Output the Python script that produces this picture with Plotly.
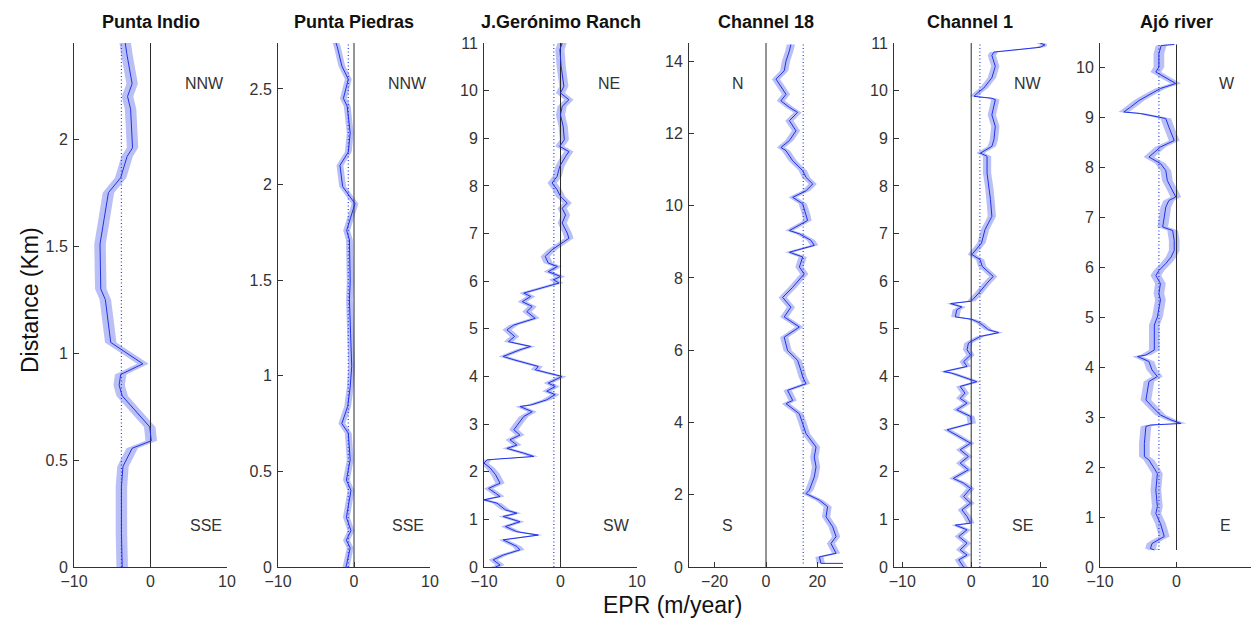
import plotly.graph_objects as go

# ---------------- data ----------------
titles = ["Punta Indio", "Punta Piedras", "J.Gerónimo Ranch", "Channel 18", "Channel 1", "Ajó river"]
dir_top = ["NNW", "NNW", "NE", "N", "NW", "W"]
dir_bottom = ["SSE", "SSE", "SW", "S", "SE", "E"]

# Punta Indio
pi_dist = [2.45, 2.40, 2.26, 2.20, 2.14, 1.96, 1.92, 1.82, 1.75, 1.64, 1.51, 1.30, 1.25, 1.05, 0.95,
           0.90, 0.85, 0.80, 0.655, 0.59, 0.555, 0.47, 0.375, 0.16, 0.0]
pi_epr = [-3.3, -3.1, -2.4, -3.0, -2.6, -2.35, -3.05, -3.9, -5.5, -6.0, -6.6, -6.5, -5.9, -5.2, -1.0,
          -3.9, -4.1, -3.7, -0.1, 0.1, -2.4, -3.6, -3.8, -3.8, -3.7]

# Punta Piedras
pp_dist = [2.74, 2.72, 2.62, 2.55, 2.45, 2.41, 2.27, 2.17, 2.10, 1.99, 1.94, 1.90, 1.76, 1.71, 1.49,
           1.40, 1.22, 1.05, 0.94, 0.84, 0.75, 0.70, 0.56, 0.455, 0.40, 0.26, 0.19, 0.14, 0.10, 0.0]
pp_epr = [-2.37, -2.2, -1.6, -0.75, -1.4, -0.9, -0.5, -0.75, -1.85, -1.5, -0.6, 0.13, -0.97, -0.6, -0.5,
          -0.6, -0.45, -0.3, -0.5, -0.83, -1.6, -0.75, -0.5, -1.0, -0.4, -1.0, -0.4, -1.0, -0.5, -1.05]

# J.Gerónimo Ranch
jg_dist = [11.0, 10.86, 10.51, 10.09, 9.95, 9.81, 9.67, 9.49, 9.25, 8.97, 8.83, 8.72, 8.62, 8.41, 8.2,
           8.06, 7.92, 7.78, 7.64, 7.53, 7.39, 7.22, 7.01, 6.9, 6.66, 6.52, 6.38, 6.31, 6.20, 6.10,
           6.03, 5.96, 5.82, 5.75, 5.68, 5.57, 5.47, 5.36, 5.22, 5.08, 4.98, 4.84, 4.73, 4.63, 4.56,
           4.42, 4.35, 4.21, 4.14, 4.03, 4.00, 3.86, 3.79, 3.69, 3.62, 3.51, 3.40, 3.37, 3.26, 3.16,
           3.02, 2.88, 2.77, 2.67, 2.56, 2.49, 2.39, 2.32, 2.25, 2.18, 2.08, 1.94, 1.76, 1.65, 1.55,
           1.48, 1.41, 1.34, 1.20, 1.13, 1.06, 0.95, 0.85, 0.74, 0.67, 0.57, 0.43, 0.36, 0.25, 0.15,
           0.04, 0.0]
jg_epr = [0.22, -0.08, 0.09, 0.44, 0.0, 1.1, 0.22, 0.0, 0.35, 0.5, -0.1, 1.1, 0.66, -0.1, -0.44,
          -1.1, -0.44, 0.0, 0.88, 0.22, 0.66, 0.22, 0.88, 1.1, -1.1, -2.0, -1.6, -0.4, -1.6, 0.0,
          -0.9, -0.2, -3.3, -4.8, -3.9, -5.0, -3.7, -4.4, -3.3, -6.1, -7.0, -6.0, -6.8, -3.9, -5.3,
          -7.5, -6.1, -2.9, -3.3, -0.7, 0.2, -1.6, -0.7, -1.8, -0.7, -1.8, -3.9, -5.3, -3.7, -4.8,
          -5.5, -6.1, -5.3, -6.6, -5.7, -7.0, -4.8, -3.5, -9.6, -10.0, -9.2, -8.5, -7.9, -9.4, -8.5,
          -7.9, -10.0, -8.3, -7.2, -5.7, -7.5, -5.3, -7.2, -5.7, -2.9, -7.5, -5.7, -5.3, -7.5, -8.8,
          -7.9, -8.5]

# Channel 18
c18_dist = [14.46, 14.28, 14.0, 13.73, 13.5, 13.36, 13.08, 12.9, 12.72, 12.58, 12.35, 12.07, 11.8, 11.61,
            11.52, 11.24, 10.97, 10.78, 10.6, 10.41, 10.23, 10.05, 9.77, 9.59, 9.31, 9.22, 9.04, 8.9,
            8.71, 8.58, 8.30, 8.11, 7.74, 7.46, 7.19, 6.92, 6.64, 6.36, 5.99, 5.72, 5.44, 5.26, 5.07,
            4.89, 4.61, 4.52, 4.24, 3.97, 3.69, 3.32, 3.04, 2.77, 2.49, 2.13, 2.03, 1.85, 1.67, 1.39,
            1.11, 0.84, 0.65, 0.38, 0.28, 0.10, 0.10]
c18_epr = [9.7, 9.1, 7.8, 7.1, 3.9, 5.2, 7.8, 5.8, 9.1, 12.3, 9.1, 11.7, 9.1, 5.8,
           7.8, 10.4, 14.3, 15.6, 18.2, 15.6, 10.4, 14.3, 15.6, 16.2, 9.1, 13.0, 17.5, 18.8,
           9.1, 14.3, 13.0, 14.9, 10.4, 6.5, 9.7, 7.1, 13.0, 7.1, 8.4, 12.3, 13.6, 14.3, 15.6,
           8.4, 10.4, 7.8, 13.0, 14.3, 15.6, 19.5, 18.8, 19.5, 18.8, 16.9, 15.6, 20.8, 24.0, 23.4,
           26.0, 27.3, 25.3, 27.3, 20.8, 21.4, 30.0]

# Channel 1
c1_dist = [11.0, 10.96, 10.91, 10.88, 10.83, 10.81, 10.74, 10.51, 10.27, 10.05, 9.95, 9.88, 9.84, 9.81,
           9.49, 9.25, 8.97, 8.83, 8.69, 8.62, 8.27, 7.99, 7.71, 7.36, 7.08, 6.80, 6.56, 6.45, 6.31,
           6.10, 5.96, 5.75, 5.58, 5.53, 5.46, 5.40, 5.25, 5.20, 5.12, 4.98, 4.92, 4.84, 4.70, 4.56,
           4.45, 4.31, 4.21, 4.10, 4.07, 3.89, 3.79, 3.65, 3.54, 3.44, 3.30, 3.16, 3.02, 2.88, 2.77,
           2.60, 2.46, 2.32, 2.18, 2.04, 1.86, 1.76, 1.65, 1.48, 1.34, 1.20, 1.06, 0.92, 0.88, 0.78,
           0.64, 0.50, 0.36, 0.25, 0.15, 0.0]
c1_epr = [10.0, 10.7, 10.0, 8.1, 5.2, 3.3, 3.0, 3.5, 3.0, 1.8, 0.9, 0.4, 3.0, 3.5,
          3.0, 3.5, 3.3, 3.0, 1.35, 2.3, 2.3, 2.6, 2.8, 3.0, 2.0, 1.5, 0.1, 1.3, 1.6,
          3.2, 2.3, 1.1, 0.0, -3.0, -1.35, -2.1, -2.3, 0.1, 1.3, 2.5, 4.0, 1.3, -0.4, -0.6,
          -0.1, -1.1, -0.6, -4.0, -2.8, 0.8, -1.6, -0.9, -1.6, -0.6, -2.1, -0.1, 0.1, -3.5, -2.1,
          -0.1, -1.6, -0.4, -1.6, -0.4, -2.6, -1.1, -0.1, -1.1, -0.1, -1.35, -0.6, -0.1, -2.3, -0.6,
          -1.8, -0.6, -1.6, -0.6, -1.8, -1.1]

# Ajó river
aj_dist = [10.45, 10.43, 10.27, 10.0, 9.9, 9.8, 9.67, 9.57, 9.43, 9.33, 9.2, 9.1, 9.07, 8.97, 8.8,
           8.53, 8.4, 8.2, 8.07, 7.93, 7.73, 7.53, 7.4, 7.33, 7.2, 7.0, 6.8, 6.73, 6.53, 6.33, 6.2,
           6.07, 5.93, 5.83, 5.67, 5.47, 5.34, 5.0, 4.84, 4.34, 4.24, 4.21, 4.11, 3.94, 3.81, 3.71,
           3.34, 3.21, 3.04, 2.94, 2.87, 2.84, 2.81, 2.47, 2.21, 2.14, 1.87, 1.54, 1.21, 1.07, 0.87,
           0.61, 0.54, 0.47, 0.37, 0.34]
aj_epr = [-0.3, -2.0, -2.3, -2.3, -2.7, -1.6, -0.1, -2.1, -3.8, -4.9, -6.0, -6.9, -4.7, -1.4, -1.0,
          -0.3, -2.1, -3.6, -2.1, -1.4, -1.2, -0.5, -0.1, -1.0, -1.4, -1.6, -1.8, -0.5, -0.3, -0.3, -0.7,
          -1.4, -2.3, -2.7, -2.1, -2.3, -2.1, -2.5, -2.9, -2.9, -4.0, -5.1, -3.6, -3.2, -2.5, -3.6,
          -4.0, -3.2, -2.1, -0.7, 0.6, -3.4, -4.0, -4.2, -4.2, -3.6, -2.5, -2.7, -2.5, -2.7, -2.1,
          -1.6, -2.5, -3.2, -3.4, -2.9]

dists = [pi_dist, pp_dist, jg_dist, c18_dist, c1_dist, aj_dist]
eprs = [pi_epr, pp_epr, jg_epr, c18_epr, c1_epr, aj_epr]
uncert = [0.75, 0.45, 0.6, 1.6, 0.6, 0.7]          # half-width of shaded band (m/year)
means = [-3.8, -0.75, -0.87, 14.5, 1.26, -2.3]    # dotted mean EPR lines

x_ranges = [[-10, 10], [-10, 10], [-10, 10], [-30, 30], [-11.2, 11], [-10, 10]]
x_ticks = [[-10, 0, 10], [-10, 0, 10], [-10, 0, 10], [-20, 0, 20], [-10, 0, 10], [-10, 0, 10]]
y_ranges = [[0, 2.45], [0, 2.74], [0, 11], [0, 14.5], [0, 11], [0, 10.48]]
y_ticks = [[0, 0.5, 1, 1.5, 2], [0, 0.5, 1, 1.5, 2, 2.5], list(range(0, 12)),
           list(range(0, 15, 2)), list(range(0, 12)), list(range(0, 11))]
zero_from_data = [False, False, False, False, False, True]

# ---------------- layout geometry (reference pixel coords) ----------------
OFF = 8                    # page body margin
W, H = 1259 - OFF, 618 - OFF
px_left = [74, 278, 484, 689, 894, 1100]
px_right = [227, 430, 637, 843, 1047, 1253]
py_top, py_bot = 43, 567
dir_top_x = [0.85, 0.855, 0.817, 0.318, 0.876, 0.83]
dir_bot_x = [0.86, 0.855, 0.863, 0.247, 0.837, 0.82]


def fx(px):
    return (px - OFF) / W


def fy(py):
    return (H - (py - OFF)) / H


FONT = "Liberation Sans, Arial, sans-serif"
band_col = "rgb(186,192,246)"
line_col = "rgb(30,50,235)"

fig = go.Figure()
annotations = []
layout_axes = {}

for i in range(6):
    n = i + 1
    xa = "x" if n == 1 else f"x{n}"
    ya = "y" if n == 1 else f"y{n}"
    d = dists[i]
    v = eprs[i]
    e = uncert[i]
    # band
    bx = [a + e for a in v] + [a - e for a in v[::-1]]
    by = list(d) + list(d[::-1])
    fig.add_trace(go.Scatter(x=bx, y=by, fill="toself", fillcolor=band_col, mode="none",
                             line=dict(width=0), hoverinfo="skip", xaxis=xa, yaxis=ya, showlegend=False))
    # zero line
    z0 = min(d) if zero_from_data[i] else y_ranges[i][0]
    z1 = max(d) if zero_from_data[i] else y_ranges[i][1]
    fig.add_trace(go.Scatter(x=[0, 0], y=[z0, z1], mode="lines", line=dict(color="#2a2a2a", width=1),
                             xaxis=xa, yaxis=ya, showlegend=False, hoverinfo="skip"))
    # mean dotted line
    fig.add_trace(go.Scatter(x=[means[i], means[i]], y=[min(d), max(d)], mode="lines",
                             line=dict(color="rgb(40,60,235)", width=1.2, dash="1px,2.5px"),
                             xaxis=xa, yaxis=ya, showlegend=False, hoverinfo="skip"))
    # EPR line
    fig.add_trace(go.Scatter(x=v, y=d, mode="lines", line=dict(color=line_col, width=1),
                             xaxis=xa, yaxis=ya, showlegend=False))

    xdom = [fx(px_left[i]), min(1.0, fx(px_right[i]))]
    ydom = [fy(py_bot), fy(py_top)]
    axcommon = dict(showgrid=False, zeroline=False, showline=True, linecolor="#333", linewidth=1,
                    ticks="inside", ticklen=5, tickcolor="#333", mirror=False, automargin=False,
                    tickfont=dict(family=FONT, size=16, color="#333"))
    layout_axes["xaxis" if n == 1 else f"xaxis{n}"] = dict(
        domain=xdom, range=x_ranges[i], tickmode="array", tickvals=x_ticks[i],
        anchor=ya, ticklabelstandoff=0, **axcommon)
    layout_axes["yaxis" if n == 1 else f"yaxis{n}"] = dict(
        domain=ydom, range=y_ranges[i], tickmode="array", tickvals=y_ticks[i],
        anchor=xa, ticklabelstandoff=2, **axcommon)

    cx = fx((px_left[i] + px_right[i]) / 2)
    annotations.append(dict(text=f"<b>{titles[i]}</b>", x=cx, y=fy(22), xref="paper", yref="paper",
                            showarrow=False, font=dict(family=FONT, size=18, color="#111"),
                            xanchor="center", yanchor="middle"))
    annotations.append(dict(text=dir_top[i], x=dir_top_x[i], y=0.922, xref=f"{xa} domain",
                            yref=f"{ya} domain", showarrow=False, xanchor="center", yanchor="middle",
                            font=dict(family=FONT, size=16, color="#333")))
    annotations.append(dict(text=dir_bottom[i], x=dir_bot_x[i], y=0.08, xref=f"{xa} domain",
                            yref=f"{ya} domain", showarrow=False, xanchor="center", yanchor="middle",
                            font=dict(family=FONT, size=16, color="#333")))

annotations.append(dict(text="Distance (Km)", x=fx(30), y=fy(300), xref="paper", yref="paper",
                        textangle=-90, showarrow=False, xanchor="center", yanchor="middle",
                        font=dict(family=FONT, size=23, color="#111")))
annotations.append(dict(text="EPR (m/year)", x=fx(672), y=fy(605), xref="paper", yref="paper",
                        showarrow=False, xanchor="center", yanchor="middle",
                        font=dict(family=FONT, size=23, color="#111")))

fig.update_layout(width=W, height=H, margin=dict(l=0, r=0, t=0, b=0, pad=0, autoexpand=False),
                  paper_bgcolor="white", plot_bgcolor="white", annotations=annotations,
                  showlegend=False, **layout_axes)

fig.write_html("out.html")
